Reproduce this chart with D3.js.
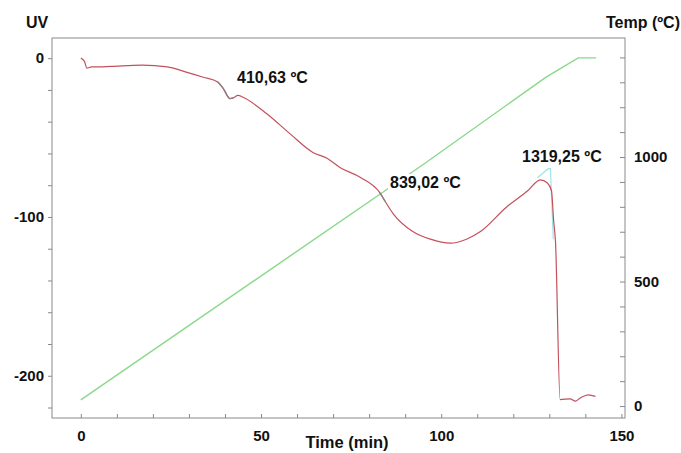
<!DOCTYPE html>
<html>
<head>
<meta charset="utf-8">
<script src="https://cdn.jsdelivr.net/npm/d3@7"></script>
<style>
  body { margin: 0; background: #fff; }
  text { font-family: "Liberation Sans", Arial, sans-serif; font-weight: bold; fill: #111; }
  .axis path, .axis line { stroke: #8a8a8a; }
</style>
</head>
<body>
<div id="chart"></div>
<script>
// UV signal (left axis) vs time
const uvTime  = [0, 1, 1.7, 3, 6, 10, 17, 24, 29, 34, 38, 39.5, 41.4, 42.3, 43.6, 45, 51.6, 58, 64.5, 68.3, 72, 77.5, 83, 84.4, 86.7, 92, 97, 102.5, 107, 111, 118, 124, 127.5, 129.4, 130.6, 131.2, 131.7, 133, 135.8, 137.2, 138.6, 140.8, 142.8];
const uvValue = [0, -2, -6.3, -5.5, -5.5, -5, -4.4, -5.5, -8.6, -12, -15, -19, -25.5, -25, -23.4, -24.6, -35, -47.5, -59.5, -63, -69, -75, -84.8, -90, -98, -109, -114, -116.5, -114, -109, -94, -83.5, -76.6, -78.5, -83.5, -102.5, -115, -215, -214.5, -216, -214, -212, -213];

// temperature (right axis)
const tempTime  = [0, 95, 129, 138, 143];
const tempValue = [25, 970, 1320, 1398, 1398];

// tangent construction at the peak
const tangentTime  = [126.7, 129.7, 130.3, 131.1];
const tangentValue = [-75.3, -69.6, -69.6, -114];

const annotations = [
  { text: '410,63 ºC',  x: 237, y: 83 },
  { text: '839,02 ºC',  x: 390, y: 188 },
  { text: '1319,25 ºC', x: 522, y: 162 }
];

const leftTicks  = d3.range(-220, 1, 20);
const rightTicks = d3.range(0, 1401, 100);
const xTicks     = d3.range(0, 151, 10);

const W = 681, H = 453;
const plot = { left: 52, right: 625, top: 38, bottom: 418 };

const svg = d3.select('#chart').append('svg')
    .attr('width', W)
    .attr('height', H);

const x = d3.scaleLinear().domain([-8, 151]).range([plot.left, plot.right]);
const yL = d3.scaleLinear().domain([-226.6, 12.7]).range([plot.bottom, plot.top]);
const yR = d3.scaleLinear().domain([-48, 1478]).range([plot.bottom, plot.top]);

// frame
svg.append('rect')
    .attr('x', plot.left)
    .attr('y', plot.top)
    .attr('width', plot.right - plot.left)
    .attr('height', plot.bottom - plot.top)
    .attr('fill', 'none')
    .attr('stroke', '#8a8a8a');

// axes
const leftAxis = d3.axisLeft(yL)
    .tickValues(leftTicks)
    .tickSizeInner(4)
    .tickSizeOuter(0)
    .tickPadding(4)
    .tickFormat(d => d % 100 === 0 ? d : '');

svg.append('g')
    .attr('class', 'axis')
    .attr('transform', `translate(${plot.left},0)`)
    .call(leftAxis)
    .call(g => g.select('.domain').remove())
    .selectAll('text').style('font-size', '15px');

const rightAxis = d3.axisRight(yR)
    .tickValues(rightTicks)
    .tickSizeInner(-5)
    .tickSizeOuter(0)
    .tickPadding(9)
    .tickFormat(d => d % 500 === 0 ? d : '');

svg.append('g')
    .attr('class', 'axis')
    .attr('transform', `translate(${plot.right},0)`)
    .call(rightAxis)
    .call(g => g.select('.domain').remove())
    .selectAll('text').style('font-size', '15px');

const bottomAxis = d3.axisBottom(x)
    .tickValues(xTicks)
    .tickSizeInner(-4)
    .tickSizeOuter(0)
    .tickPadding(12)
    .tickFormat(d => d % 50 === 0 ? d : '');

svg.append('g')
    .attr('class', 'axis')
    .attr('transform', `translate(0,${plot.bottom})`)
    .call(bottomAxis)
    .call(g => g.select('.domain').remove())
    .selectAll('text').style('font-size', '15px');

// axis titles
svg.append('text')
    .attr('x', 26)
    .attr('y', 28)
    .style('font-size', '16px')
    .text('UV');

svg.append('text')
    .attr('x', 680)
    .attr('y', 28)
    .attr('text-anchor', 'end')
    .style('font-size', '16px')
    .text('Temp (ºC)');

svg.append('text')
    .attr('x', 347)
    .attr('y', 448)
    .attr('text-anchor', 'middle')
    .style('font-size', '16.5px')
    .text('Time (min)');

// lines
const tempData = tempTime.map((t, i) => ({ t, v: tempValue[i] }));
const uvData = uvTime.map((t, i) => ({ t, v: uvValue[i] }));
const tangentData = tangentTime.map((t, i) => ({ t, v: tangentValue[i] }));

const lineR = d3.line().x(d => x(d.t)).y(d => yR(d.v));
const lineL = d3.line().x(d => x(d.t)).y(d => yL(d.v));
const curveL = d3.line().x(d => x(d.t)).y(d => yL(d.v)).curve(d3.curveMonotoneX);

svg.append('path')
    .datum(tempData)
    .attr('d', lineR)
    .attr('fill', 'none')
    .attr('stroke', '#8ad88a')
    .attr('stroke-width', 1.4);

svg.append('path')
    .datum(tangentData)
    .attr('d', lineL)
    .attr('fill', 'none')
    .attr('stroke', '#9ee6e6')
    .attr('stroke-width', 1.2);

svg.append('path')
    .datum(uvData)
    .attr('d', curveL)
    .attr('fill', 'none')
    .attr('stroke', '#c4505c')
    .attr('stroke-width', 1.2);

// darker onset sections
[[38, 42.3], [82, 85]].forEach(([a, b]) => {
    svg.append('path')
        .datum(uvData.filter(d => d.t >= a && d.t <= b))
        .attr('d', curveL)
        .attr('fill', 'none')
        .attr('stroke', '#8a7f88')
        .attr('stroke-width', 1.2);
});

// annotations with white background
annotations.forEach(a => {
    const g = svg.append('g');
    const txt = g.append('text')
        .attr('x', a.x)
        .attr('y', a.y)
        .style('font-size', '16px')
        .text(a.text);
    const bb = txt.node().getBBox();
    g.insert('rect', 'text')
        .attr('x', bb.x - 2)
        .attr('y', bb.y)
        .attr('width', bb.width + 4)
        .attr('height', bb.height)
        .attr('fill', '#fff');
});
</script>
</body>
</html>
